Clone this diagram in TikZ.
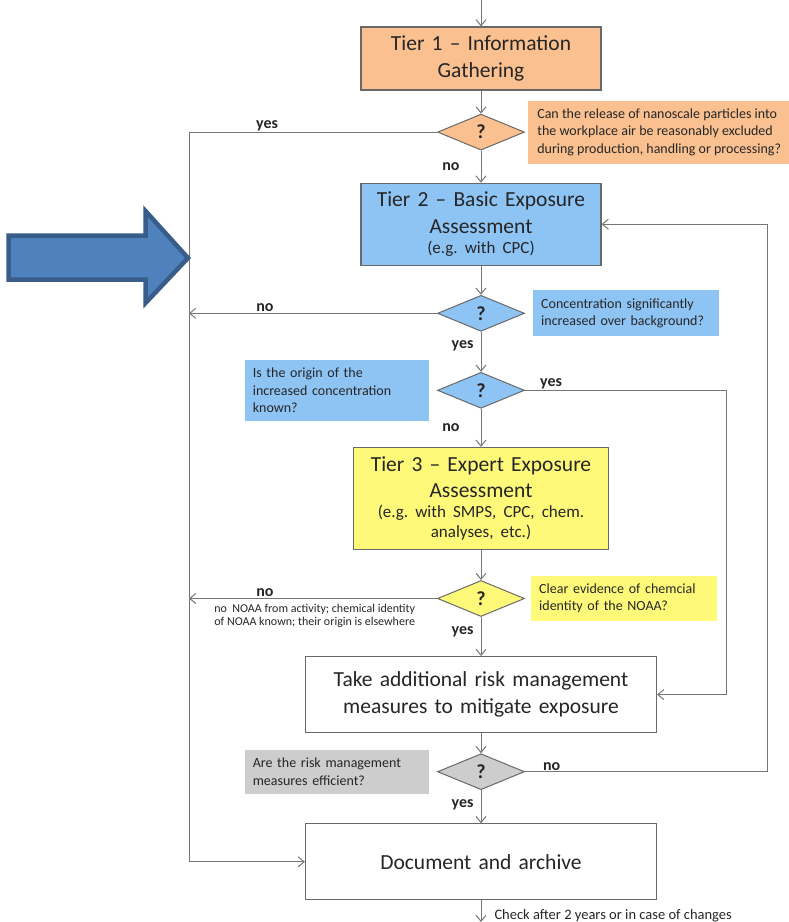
\documentclass[tikz,border=0pt]{standalone}
\usepackage{fontspec}
\setmainfont{Carlito}
\usepackage{tikz}
\usetikzlibrary{arrows.meta}
\usetikzlibrary{shapes.geometric}
\usetikzlibrary{positioning}

\definecolor{tierorange}{RGB}{250,192,144}
\definecolor{tierblue}{RGB}{142,196,244}
\definecolor{tieryellow}{RGB}{255,249,122}
\definecolor{tiergrey}{RGB}{205,205,205}
\definecolor{boxline}{RGB}{105,105,105}
\definecolor{flowline}{RGB}{118,118,118}
\definecolor{textdark}{RGB}{38,38,38}
\definecolor{arrowfill}{RGB}{79,129,189}
\definecolor{arrowedge}{RGB}{56,93,138}

\frenchspacing

\begin{document}
\begin{tikzpicture}[x=1pt,y=-1pt,
    >={Straight Barb[length=6pt,width=10pt]},
    flow/.style={flowline, line width=1pt},
    tier/.style={draw=boxline, line width=1.2pt, inner sep=0pt, align=center,
        text=textdark, font=\fontsize{21.5}{26.5}\selectfont},
    decision/.style={diamond, draw=boxline, line width=1pt, inner sep=0pt,
        minimum width=87pt, minimum height=36pt, text=textdark,
        font=\bfseries\fontsize{20}{20}\selectfont},
    note/.style={inner sep=8pt, align=left, text=textdark,
        font=\fontsize{14}{17.5}\selectfont},
    answer/.style={inner sep=1pt, text=textdark,
        font=\bfseries\fontsize{16}{16}\selectfont},
    remark/.style={inner sep=1pt, text=textdark, align=left}]

    \useasboundingbox (0,0) rectangle (789,922);
    \clip (0,0) rectangle (789,922);

    \coordinate (start) at (481,0);
    \coordinate (finish) at (481,922);
    \coordinate (cL) at (189,0);
    \coordinate (cR) at (726,0);
    \coordinate (cRR) at (767,0);

    \node [tier, fill=tierorange, text width=240pt, minimum height=63pt] (tier1) at (481,58.5) {Tier 1 – Information\\Gathering};
    \node [decision, fill=tierorange] (q1) [below=23pt of tier1] {?};
    \node [tier, fill=tierblue, text width=240pt, minimum height=82pt] (tier2) [below=32pt of q1]
        {Tier 2 – Basic Exposure\\Assessment\par\fontsize{17}{20}\selectfont (e.g. with CPC)\par};
    \node [decision, fill=tierblue] (q2) [below=29pt of tier2] {?};
    \node [decision, fill=tierblue] (q3) [below=40pt of q2] {?};
    \node [tier, fill=tieryellow, text width=255pt, minimum height=102pt] (tier3) [below=38pt of q3]
        {Tier 3 – Expert Exposure\\Assessment\par\fontsize{17}{20}\selectfont (e.g. with SMPS, CPC, chem.\\analyses, etc.)\par};
    \node [decision, fill=tieryellow] (q4) [below=30pt of tier3] {?};
    \node [tier, fill=white, text width=351pt, minimum height=76pt] (take) [below=39pt of q4]
        {Take additional risk management\\measures to mitigate exposure};
    \node [decision, fill=tiergrey] (q5) [below=20pt of take] {?};
    \node [tier, fill=white, text width=351pt, minimum height=76pt] (doc) [below=33pt of q5] {Document and archive};

    \node [note, fill=tierorange, minimum width=262pt, minimum height=59pt] (n1) [right=3pt of q1]
        {Can the release of nanoscale particles into\\the workplace air be reasonably excluded\\during production, handling or processing?};
    \node [note, fill=tierblue, text width=170pt, minimum height=44pt] (n2) [right=8pt of q2]
        {Concentration significantly\\increased over background?};
    \node [note, fill=tierblue, text width=168pt, minimum height=59pt] (n3) [left=8pt of q3]
        {Is the origin of the\\increased concentration\\known?};
    \node [note, fill=tieryellow, text width=170pt, minimum height=44pt] (n4) [right=6pt of q4]
        {Clear evidence of chemcial\\identity of the NOAA?};
    \node [note, fill=tiergrey, text width=168pt, minimum height=44pt] (n5) [left=8pt of q5]
        {Are the risk management\\measures efficient?};

    \path[->, flow]
        (start) edge (tier1)
        (tier1) edge (q1)
        (q1) edge node [answer, left=20pt] {no} (tier2)
        (tier2) edge (q2)
        (q2) edge node [answer, pos=0.35, left=6pt] {yes} (q3)
        (q3) edge node [answer, left=20pt] {no} (tier3)
        (tier3) edge (q4)
        (q4) edge node [answer, pos=0.38, left=6pt] {yes} (take)
        (take) edge (q5)
        (q5) edge node [answer, pos=0.45, left=6pt] {yes} (doc)
        (doc) edge node [remark, pos=0.69, right=12pt, font=\fontsize{14.5}{17}\selectfont]
            {Check after 2 years or in case of changes} (finish);

    \draw [->, flow] (q1.west) -- node [answer, pos=0.685, above] {yes} (q1.west -| cL) |- (doc.west);
    \draw [->, flow] (q2.west) -- node [answer, pos=0.694, above] {no} (q2.west -| cL);
    \draw [->, flow] (q4.west) -- node [answer, pos=0.694, above] {no}
        node [remark, pos=0.493, below=4pt, font=\fontsize{12}{13}\selectfont]
        {no\ \ NOAA from activity; chemical identity\\of NOAA known; their origin is elsewhere} (q4.west -| cL);
    \draw [->, flow] (q3.east) -- node [answer, pos=0.13, above] {yes} (q3.east -| cR) |- (take.east);
    \draw [->, flow] (q5.east) -- node [answer, pos=0.11, above] {no} (q5.east -| cRR) |- (tier2.east);

    \draw [fill=arrowfill, draw=arrowedge, line width=4.5pt, line join=miter]
        (8.5,235.5) -- (145.5,235.5) -- (145.5,211) -- (188,258) -- (145.5,303)
        -- (145.5,279.5) -- (8.5,279.5) -- cycle;
\end{tikzpicture}
\end{document}
